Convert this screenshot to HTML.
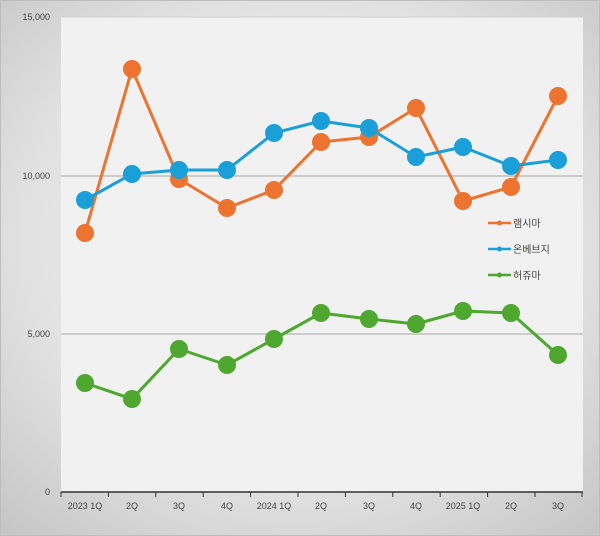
<!DOCTYPE html>
<html><head><meta charset="utf-8"><style>
html,body{margin:0;padding:0;width:600px;height:536px;overflow:hidden}
</style></head><body>
<svg width="600" height="536" xmlns="http://www.w3.org/2000/svg" font-family="Liberation Sans, Noto Sans CJK KR, sans-serif">
<defs>
<radialGradient id="bg" cx="50%" cy="45%" r="75%">
<stop offset="0" stop-color="#f4f4f4"/><stop offset="0.6" stop-color="#e2e2e2"/><stop offset="1" stop-color="#c4c4c4"/>
</radialGradient>
</defs>
<rect x="0" y="0" width="600" height="536" fill="url(#bg)"/>
<rect x="0.5" y="0.5" width="599" height="535" fill="none" stroke="#bdbdbd"/>
<rect x="61" y="17" width="522" height="475" fill="#f1f1f1"/>
<line x1="61" y1="176" x2="583" y2="176" stroke="#a6a6a6" stroke-width="1"/>
<line x1="61" y1="334" x2="583" y2="334" stroke="#a6a6a6" stroke-width="1"/>
<line x1="61" y1="17" x2="583" y2="17" stroke="#d0d0d0" stroke-width="1"/>
<line x1="61" y1="492" x2="583" y2="492" stroke="#333" stroke-width="1.5"/>
<g stroke="#333" stroke-width="1">
<line x1="61" y1="492" x2="61" y2="497"/><line x1="108.4" y1="492" x2="108.4" y2="497"/><line x1="155.8" y1="492" x2="155.8" y2="497"/><line x1="203.2" y1="492" x2="203.2" y2="497"/><line x1="250.6" y1="492" x2="250.6" y2="497"/><line x1="298" y1="492" x2="298" y2="497"/><line x1="345.4" y1="492" x2="345.4" y2="497"/><line x1="392.8" y1="492" x2="392.8" y2="497"/><line x1="440.2" y1="492" x2="440.2" y2="497"/><line x1="487.6" y1="492" x2="487.6" y2="497"/><line x1="535" y1="492" x2="535" y2="497"/><line x1="582" y1="492" x2="582" y2="497"/>
</g>
<g font-size="9" fill="#444" text-anchor="end">
<text x="50" y="20">15,000</text><text x="50" y="179">10,000</text><text x="50" y="337">5,000</text><text x="50" y="495">0</text>
</g>
<g font-size="9" fill="#444" text-anchor="middle">
<text x="85" y="509">2023 1Q</text><text x="132" y="509">2Q</text><text x="179" y="509">3Q</text><text x="227" y="509">4Q</text><text x="274" y="509">2024 1Q</text><text x="321" y="509">2Q</text><text x="369" y="509">3Q</text><text x="416" y="509">4Q</text><text x="463" y="509">2025 1Q</text><text x="511" y="509">2Q</text><text x="558" y="509">3Q</text>
</g>
<g stroke-width="3" fill="none" stroke-linejoin="round">
<polyline stroke="#ed7330" points="85,233 132,69 179,179 227,208 274,190 321,142 369,137 416,108 463,201 511,187 558,96"/>
<polyline stroke="#1a9fd8" points="85,200 132,174 179,170 227,170 274,133 321,121 369,128 416,157 463,147 511,166 558,160"/>
<polyline stroke="#4ea72e" points="85,383 132,399 179,349 227,365 274,339 321,313 369,319 416,324 463,311 511,313 558,355"/>
</g>
<g fill="#ed7330"><circle cx="85" cy="233" r="9"/><circle cx="132" cy="69" r="9"/><circle cx="179" cy="179" r="9"/><circle cx="227" cy="208" r="9"/><circle cx="274" cy="190" r="9"/><circle cx="321" cy="142" r="9"/><circle cx="369" cy="137" r="9"/><circle cx="416" cy="108" r="9"/><circle cx="463" cy="201" r="9"/><circle cx="511" cy="187" r="9"/><circle cx="558" cy="96" r="9"/></g>
<g fill="#1a9fd8"><circle cx="85" cy="200" r="9"/><circle cx="132" cy="174" r="9"/><circle cx="179" cy="170" r="9"/><circle cx="227" cy="170" r="9"/><circle cx="274" cy="133" r="9"/><circle cx="321" cy="121" r="9"/><circle cx="369" cy="128" r="9"/><circle cx="416" cy="157" r="9"/><circle cx="463" cy="147" r="9"/><circle cx="511" cy="166" r="9"/><circle cx="558" cy="160" r="9"/></g>
<g fill="#4ea72e"><circle cx="85" cy="383" r="9"/><circle cx="132" cy="399" r="9"/><circle cx="179" cy="349" r="9"/><circle cx="227" cy="365" r="9"/><circle cx="274" cy="339" r="9"/><circle cx="321" cy="313" r="9"/><circle cx="369" cy="319" r="9"/><circle cx="416" cy="324" r="9"/><circle cx="463" cy="311" r="9"/><circle cx="511" cy="313" r="9"/><circle cx="558" cy="355" r="9"/></g>
<g font-size="10" fill="#444">
<line x1="488" y1="223" x2="511" y2="223" stroke="#ed7330" stroke-width="2.5"/><circle cx="499.5" cy="223" r="2.5" fill="#ed7330"/><text x="513" y="227">램시마</text>
<line x1="488" y1="249" x2="511" y2="249" stroke="#1a9fd8" stroke-width="2.5"/><circle cx="499.5" cy="249" r="2.5" fill="#1a9fd8"/><text x="513" y="253">온베브지</text>
<line x1="488" y1="275" x2="511" y2="275" stroke="#4ea72e" stroke-width="2.5"/><circle cx="499.5" cy="275" r="2.5" fill="#4ea72e"/><text x="513" y="279">허쥬마</text>
</g>
</svg>
</body></html>
